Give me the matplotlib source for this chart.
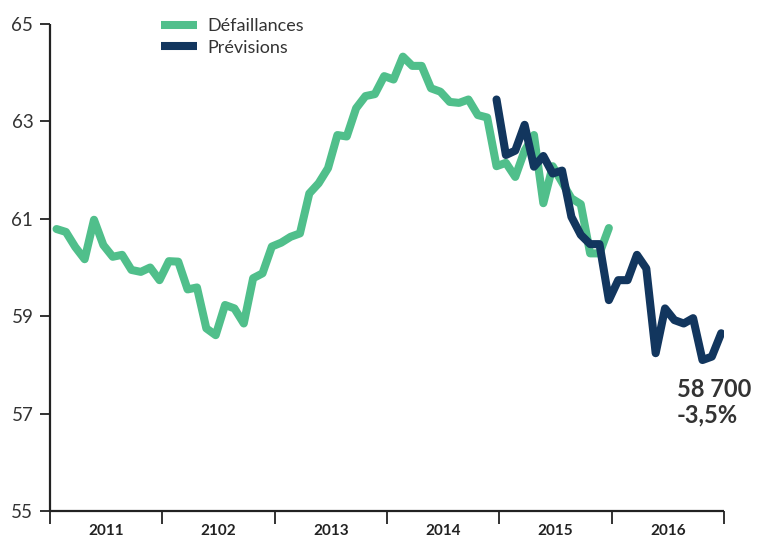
import matplotlib
matplotlib.use("Agg")
import matplotlib.pyplot as plt
import numpy as np

plt.rcParams["font.family"] = ["Lato", "DejaVu Sans"]

# monthly values (thousands), Jan 2011 onwards
defaillances = [
    60.79, 60.73, 60.42, 60.17, 60.98, 60.46, 60.22, 60.26, 59.95, 59.91, 60.00, 59.74,
    60.13, 60.12, 59.55, 59.59, 58.75, 58.61, 59.23, 59.16, 58.85, 59.78, 59.88, 60.43,
    60.51, 60.63, 60.70, 61.52, 61.73, 62.04, 62.72, 62.69, 63.27, 63.52, 63.56, 63.93,
    63.86, 64.33, 64.14, 64.14, 63.68, 63.61, 63.40, 63.38, 63.45, 63.13, 63.08, 62.08,
    62.15, 61.86, 62.40, 62.72, 61.32, 62.08, 61.75, 61.42, 61.30, 60.29, 60.29, 60.81,
]
# forecast starts at month index 47 (Dec 2014)
prev_start = 47
previsions = [
    63.45, 62.31, 62.40, 62.93, 62.07, 62.29, 61.93, 61.99, 61.04, 60.67, 60.48, 60.48,
    59.33, 59.74, 59.74, 60.26, 59.98, 58.24, 59.16, 58.92, 58.85, 58.96, 58.10, 58.17,
    58.65,
]
years = ["2011", "2102", "2013", "2014", "2015", "2016"]
y_ticks = [55, 57, 59, 61, 63, 65]

GREEN = "#50BF8B"
NAVY = "#12365E"
TXT = "#333333"

x_def = 2011 + (np.arange(len(defaillances)) + 0.7) / 12
x_prev = 2011 + (np.arange(len(previsions)) + prev_start + 0.7) / 12

fig = plt.figure(figsize=(7.59, 5.39), dpi=100)
ax = fig.add_axes([50 / 759, 28 / 539, 674 / 759, 487 / 539])

ax.plot(x_def, defaillances, color=GREEN, lw=5.8, solid_joinstyle="round",
        solid_capstyle="round", label="Défaillances")
ax.plot(x_prev, previsions, color=NAVY, lw=5.8, solid_joinstyle="round",
        solid_capstyle="round", label="Prévisions")

ax.set_xlim(2011, 2017)
ax.set_ylim(55, 65)
ax.set_yticks(y_ticks)
ax.set_yticklabels([str(v) for v in y_ticks])
ax.set_xticks(np.arange(2011, 2018))
ax.set_xticklabels([])
ax.set_xticks(np.arange(2011, 2017) + 0.5, minor=True)
ax.set_xticklabels(years, minor=True)

for s in ["top", "right"]:
    ax.spines[s].set_visible(False)
for s in ["left", "bottom"]:
    ax.spines[s].set_color("#222222")
    ax.spines[s].set_linewidth(1.6)
    ax.spines[s].set_capstyle("butt")

ax.tick_params(axis="y", length=7, width=1.3, color="#222222", pad=5,
               labelsize=13.5, labelcolor=TXT)
ax.tick_params(axis="x", which="major", length=9.5, width=1.3, color="#222222")
# year labels sit low, just inside the bottom edge
ax.tick_params(axis="x", which="minor", length=0, pad=9.5, labelsize=11,
               labelcolor="#222222")
for lab in ax.get_xticklabels(minor=True):
    lab.set_fontweight("bold")

leg = ax.legend(loc="upper left", bbox_to_anchor=(0.141, 1.045), frameon=False,
                fontsize=13, handlelength=2.0, handletextpad=0.55,
                labelspacing=0.3)
for lh in leg.get_lines():
    lh.set_solid_capstyle("butt")
for t in leg.get_texts():
    t.set_color(TXT)

ax.text(677, 539 - 402, "58 700\n-3,5%", transform=None, fontsize=17,
        fontweight="bold", color=TXT, va="center", ha="left",
        linespacing=1.1)

fig.savefig("out.png", dpi=100)
